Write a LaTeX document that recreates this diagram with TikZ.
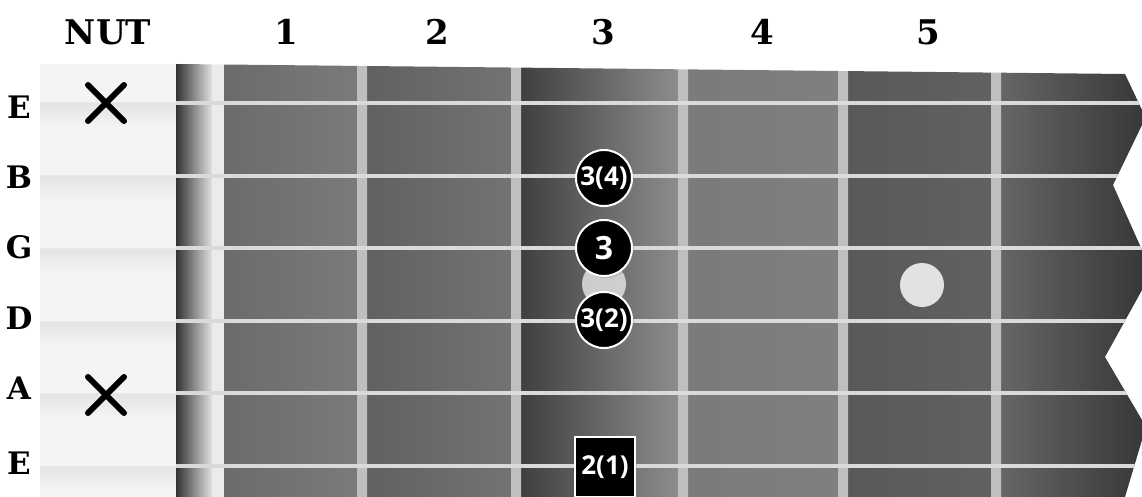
\documentclass[tikz,border=0pt]{standalone}
\usepackage{fontspec}
\setmainfont{DejaVu Serif}
\newfontfamily\dotfont{Open Sans}
\usetikzlibrary{shapes.misc, shadows}

\definecolor{nutbg}{HTML}{F4F4F4}
\definecolor{wire}{HTML}{E2E2E2}
\definecolor{strg}{HTML}{DADADA}

\tikzset{
  head/.style={font=\bfseries\fontsize{34}{34}\selectfont},
  strname/.style={font=\bfseries\fontsize{31}{31}\selectfont},
  finger/.style={circle, fill=black, draw=white, line width=2pt, minimum size=56pt,
    inner sep=0pt, text=white, font=\dotfont\bfseries\fontsize{26}{26}\selectfont,
    drop shadow={opacity=.35, shadow xshift=2pt, shadow yshift=-2pt}},
  rootbox/.style={finger, rectangle, minimum size=60pt},
  mute/.style={cross out, draw=black, line width=6pt, line cap=round, minimum size=30pt, inner sep=0pt},
  inlay/.style={circle, fill=wire, minimum size=44pt, inner sep=0pt},
}

\begin{document}
\begin{tikzpicture}[x=1pt, y=-1pt]
  \useasboundingbox (0,0) rectangle (1142,497);

  % nut area
  \fill[nutbg] (40,64) rectangle (176,497);
  \foreach \y in {103,176,248,321,393,466} {
    \shade[top color=black!11, bottom color=nutbg] (40,\y) rectangle (176,\y+24);
    \draw[black!9, line width=1pt] (40,\y) -- (176,\y);
  }

  % fretboard
  \begin{scope}
    \clip (176,64) -- (1125,74) -- (1142,110) -- (1142,125) -- (1113,185) -- (1142,250)
      -- (1142,290) -- (1105,357) -- (1142,420) -- (1142,440) -- (1125,497) -- (176,497) -- cycle;
    \foreach \xa/\xb/\cl/\cm/\cr in {224/357/58/42/52, 367/511/62/48/55, 521/678/75/60/45,
        688/838/52/40/50, 848/991/65/58/62, 1001/1142/60/70/78}
      \shade[left color=black!\cl, middle color=black!\cm, right color=black!\cr]
        (\xa,0) rectangle (\xb,497);
    \shade[left color=black!80, right color=black!12] (176,0) rectangle (212,497);
    \fill[black!8] (212,0) rectangle (224,497);
    \foreach \x in {362,516,683,843,996}
      \shade[left color=black!25, middle color=black!7, right color=black!25]
        (\x-5,0) rectangle (\x+5,497);
    \foreach \y in {103,176,248,321,393,466}
      \draw[strg, line width=4pt] (176,\y) -- (1142,\y);
  \end{scope}

  % inlays
  \node[inlay, fill=black!12, opacity=.85] (dot3) at (604,284) {};
  \node[inlay] (dot5) at (922,285) {};

  % fingering
  \node[finger] (m34) at (604,178) {3(4)};
  \node[finger, font=\dotfont\bfseries\fontsize{32}{32}\selectfont] (m3) at (604,248) {3};
  \node[finger] (m32) at (604,320) {3(2)};
  \node[rootbox] (m21) at (605,467) {2(1)};

  % muted strings
  \node[mute] (x1) at (106,103) {};
  \node[mute] (x5) at (106,395) {};

  % labels
  \node[head] (nut) at (108,32) {NUT};
  \foreach \n/\x in {1/286, 2/437, 3/603, 4/762, 5/928}
    \node[head] (f\n) at (\x,32) {\n};
  \foreach \s/\nm/\y in {1/E/107, 2/B/177, 3/G/247, 4/D/318, 5/A/388, 6/E/463}
    \node[strname] (s\s) at (19,\y) {\nm};
\end{tikzpicture}
\end{document}
